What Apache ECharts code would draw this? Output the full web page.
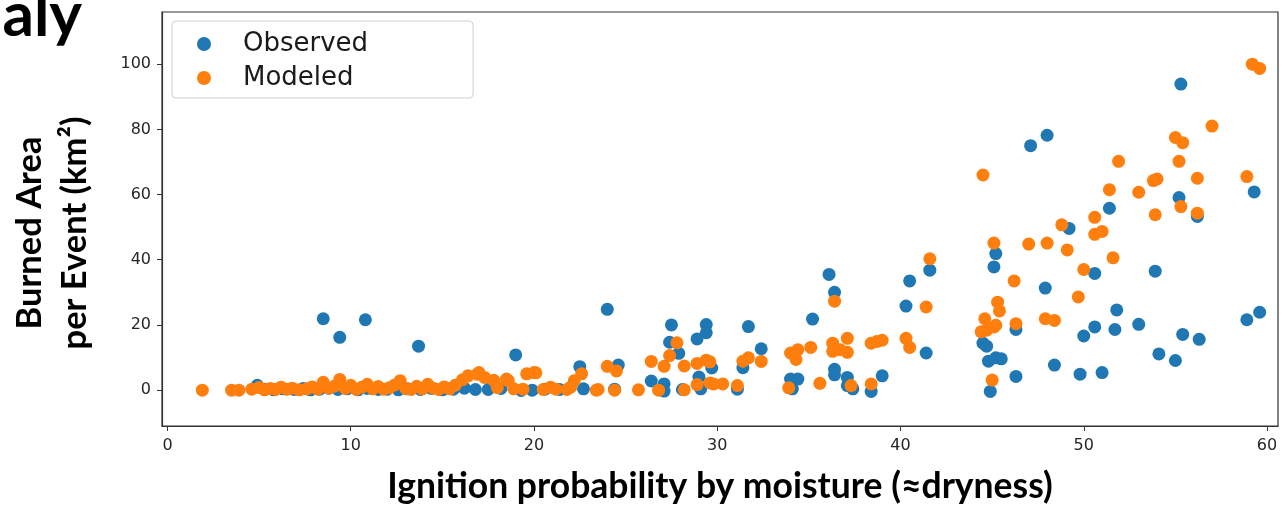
<!DOCTYPE html>
<html>
<head>
<meta charset="utf-8">
<script src="https://cdn.jsdelivr.net/npm/echarts@6/dist/echarts.min.js"></script>
<style>
  html, body { margin: 0; padding: 0; background: #fff; }
  #chart { width: 1283px; height: 510px; }
</style>
</head>
<body>
<div id="chart"></div>
<script>
// tick labels
const xTicks = [0, 10, 20, 30, 40, 50, 60];
const yTicks = [0, 20, 40, 60, 80, 100];

// Observed burned area per event [ignition probability, km2]
const observed = [
  [4.9,1.5],[5.3,0.3],[5.8,0.1],[6.3,0.4],[6.9,0.2],[7.4,0.5],[7.8,0.1],[8.3,0.3],[8.8,0.6],[9.3,0.2],
  [9.8,0.4],[10.4,0.1],[10.9,0.5],[11.5,0.2],[12.0,0.3],[12.6,0.1],[13.1,0.4],[13.8,0.2],[14.4,0.5],[15.0,0.1],
  [15.6,0.3],[16.2,0.6],[16.8,0.2],[17.5,0.2],[18.2,0.5],[19.3,-0.1],[19.9,0.0],[20.6,0.3],[21.4,0.2],[22.7,0.4],
  [8.5,21.9],[9.4,16.2],[10.8,21.6],[13.7,13.5],[19.0,10.8],[22.5,7.2],[24.0,24.8],[24.6,7.7],
  [27.5,20.0],[29.4,20.1],[29.4,17.6],[28.9,15.7],[27.4,14.7],[27.9,11.3],[31.7,19.5],[32.4,12.7],
  [31.4,6.9],[29.7,6.8],[29.0,4.0],[26.4,2.8],[27.1,1.9],[27.1,-0.3],[29.1,0.4],[31.1,0.3],[24.4,0.3],[26.9,0.2],[28.1,0.2],
  [36.1,35.5],[36.4,30.0],[35.2,21.8],[40.5,33.5],[41.6,36.8],[40.3,25.8],[41.4,11.4],[36.4,6.4],[36.4,4.7],
  [37.1,3.9],[34.0,3.4],[34.4,3.4],[37.1,1.4],[39.0,4.4],[38.4,-0.4],[37.4,0.4],[34.1,0.4],
  [44.9,-0.4],[45.1,37.8],[45.2,41.9],[44.5,14.4],[44.7,13.5],[44.8,8.9],[45.2,9.9],[45.5,9.6],
  [47.1,75.0],[48.0,78.2],[51.4,55.8],[49.2,49.6],[50.6,35.8],[47.9,31.3],[51.8,24.6],[50.6,19.4],
  [51.7,18.6],[53.0,20.2],[50.0,16.6],[46.3,18.6],[46.3,4.2],[48.4,7.7],[49.8,4.9],[51.0,5.4],
  [55.3,93.9],[55.2,59.1],[56.2,53.3],[59.3,60.8],[53.9,36.5],[55.4,17.1],[56.3,15.6],[54.1,11.1],
  [55.0,9.1],[58.9,21.6],[59.6,23.9]
];

// Modeled burned area per event
const modeled = [
  [1.9,0.0],[3.5,0.0],[3.9,0.0],
  [4.6,0.3],[5.0,0.8],[5.3,0.1],[5.6,0.5],[5.9,0.2],[6.2,0.9],[6.5,0.3],[6.8,0.6],[7.2,0.1],[7.6,0.4],
  [7.9,1.0],[8.2,0.3],[8.5,2.4],[8.8,0.6],[9.1,1.2],[9.4,3.3],[9.7,0.5],[10.0,1.5],[10.3,0.2],[10.6,0.9],
  [10.9,1.8],[11.2,0.4],[11.5,1.1],[11.8,0.3],[12.1,0.7],[12.4,1.6],[12.7,2.9],[13.0,0.5],[13.3,0.2],
  [13.6,1.2],[13.9,0.4],[14.2,1.8],[14.5,0.6],[14.8,0.2],[15.1,1.0],[15.4,0.4],[15.7,1.5],[16.1,3.2],
  [16.4,4.4],[16.9,4.9],[17.0,5.4],[17.3,3.9],[17.8,3.0],[18.5,3.4],[18.6,2.9],[19.6,5.0],[20.0,5.4],
  [20.1,5.3],[18.0,0.8],[18.9,0.4],[19.4,0.3],[20.5,0.2],[20.9,0.9],[21.2,0.3],[21.8,0.2],[22.0,0.9],
  [22.2,2.9],[22.6,5.0],[23.4,0.0],
  [24.0,7.3],[24.5,5.9],[23.5,0.2],[24.4,0.0],[25.7,0.1],[26.8,0.0],[28.2,0.1],[26.4,8.8],[27.1,7.3],
  [27.4,10.6],[27.8,14.5],[28.2,7.4],[28.9,8.2],[29.4,9.2],[29.6,8.7],[28.9,1.7],[29.6,2.2],[29.8,1.9],
  [30.3,1.9],[31.1,1.4],[31.4,8.9],[31.7,9.9],[32.4,8.8],
  [34.0,11.4],[34.4,12.4],[34.3,9.4],[35.1,13.1],[36.3,14.4],[36.3,11.9],[36.7,12.4],[37.1,11.6],
  [37.1,15.9],[36.4,27.3],[35.6,2.1],[33.9,0.7],[37.3,1.4],[38.4,1.9],[38.4,14.4],[38.7,14.9],
  [39.0,15.3],[40.3,15.9],[40.5,13.1],[41.4,25.5],[41.6,40.3],
  [44.4,17.9],[44.6,21.9],[44.7,18.4],[45.1,19.4],[45.2,19.9],[45.0,3.1],[45.3,27.0],[45.4,24.3],
  [44.5,66.0],[45.1,45.1],[46.2,33.5],[46.3,20.4],[47.0,44.8],[48.0,45.1],[47.9,21.9],[48.4,21.4],
  [48.8,50.7],[49.1,43.0],[49.7,28.6],[50.0,37.0],[50.6,53.0],[50.6,47.8],[51.0,48.7],[51.6,40.6],
  [51.4,61.5],[51.9,70.2],[53.0,60.7],[53.8,64.3],[54.0,64.8],[53.9,53.8],[55.0,77.5],[55.4,75.9],
  [55.2,70.2],[55.3,56.3],[56.2,65.0],[56.2,54.3],[57.0,81.0],[58.9,65.5],[59.2,100.0],[59.6,98.7]
];

const chart = echarts.init(document.getElementById('chart'));

const tickFont = { fontFamily: 'DejaVu Sans', fontSize: 16, color: '#262626' };
const titleFont = 'Lato';

chart.setOption({
  animation: false,
  grid: { left: 162, right: 5, top: 12, bottom: 74, show: true, borderColor: '#333', borderWidth: 1.2 },
  legend: {
    orient: 'vertical', left: 172, top: 21,
    padding: [10, 105, 7, 25], itemGap: 8,
    itemWidth: 14, itemHeight: 14, icon: 'circle',
    backgroundColor: '#fff', borderColor: '#cfcfcf', borderWidth: 1, borderRadius: 4,
    textStyle: { fontFamily: 'DejaVu Sans', fontSize: 26, color: '#1a1a1a', lineHeight: 26, padding: [0, 0, 0, 27] },
    data: ['Observed', 'Modeled']
  },
  xAxis: {
    type: 'value', min: -0.3, max: 60.6,
    name: 'Ignition probability by moisture (≈dryness)',
    nameLocation: 'middle', nameGap: 43,
    nameTextStyle: { fontFamily: titleFont, fontWeight: 'bold', fontSize: 35.5, color: '#000' },
    axisLine: { onZero: false, lineStyle: { color: '#333', width: 1.2 } },
    axisTick: { inside: false, length: 5, lineStyle: { color: '#333' }, customValues: xTicks },
    axisLabel: Object.assign({ margin: 12, customValues: xTicks }, tickFont),
    splitLine: { show: false }
  },
  yAxis: {
    type: 'value', min: -11, max: 116,
    axisLine: { show: true, onZero: false, lineStyle: { color: '#333', width: 1.2 } },
    axisTick: { show: true, inside: false, length: 5, lineStyle: { color: '#333' }, customValues: yTicks },
    axisLabel: Object.assign({ margin: 11, customValues: yTicks }, tickFont),
    splitLine: { show: false }
  },
  graphic: [
    {
      type: 'text', x: 82, y: -15,
      style: { text: 'aly', fill: '#000', font: 'bold 62px Lato', align: 'right', verticalAlign: 'top' }
    },
    {
      type: 'text', x: 30, y: 233, rotation: Math.PI / 2,
      style: { text: 'Burned Area', fill: '#000', font: 'bold 34.5px Lato', align: 'center', verticalAlign: 'middle' }
    },
    {
      type: 'text', x: 75, y: 233, rotation: Math.PI / 2,
      style: { text: 'per Event (km²)', fill: '#000', font: 'bold 34.5px Lato', align: 'center', verticalAlign: 'middle' }
    }
  ],
  series: [
    {
      name: 'Observed', type: 'scatter', data: observed, symbolSize: 13,
      itemStyle: { color: '#1f77b4', opacity: 1 }
    },
    {
      name: 'Modeled', type: 'scatter', data: modeled, symbolSize: 13,
      itemStyle: { color: '#ff7f0e', opacity: 1 }
    }
  ]
});
</script>
</body>
</html>
